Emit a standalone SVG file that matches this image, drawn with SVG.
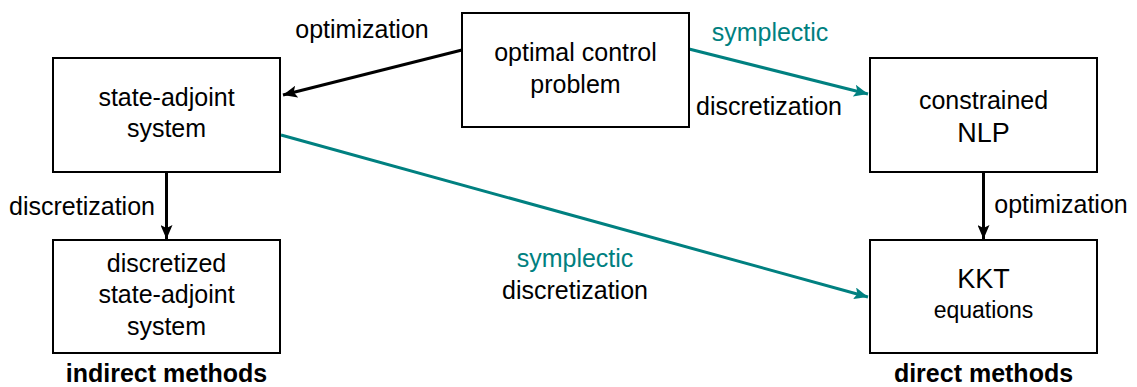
<svg xmlns="http://www.w3.org/2000/svg" width="1137" height="387" viewBox="0 0 1137 387">
<style>
text{font-family:"Liberation Sans",Arial,sans-serif;font-size:25px;fill:#000}
.c{text-anchor:middle}
.big{font-size:27px}
.sm{font-size:23px}
.teal{fill:#008080}
.bold{font-weight:bold}
.box{fill:#fff;stroke:#000;stroke-width:2}
.ab{stroke:#000;stroke-width:3;fill:none}
.at{stroke:#008080;stroke-width:3;fill:none}
</style>
<defs>
<marker id="hb" markerUnits="userSpaceOnUse" markerWidth="16" markerHeight="12" refX="14" refY="6" orient="auto">
<path d="M0,0 L14,6 L0,12 L3,6 Z" fill="#000"/>
</marker>
<marker id="ht" markerUnits="userSpaceOnUse" markerWidth="16" markerHeight="12" refX="14" refY="6" orient="auto">
<path d="M0,0 L14,6 L0,12 L3,6 Z" fill="#008080"/>
</marker>
</defs>
<g id="connectors">
<line class="ab" x1="462" y1="50" x2="283" y2="95" marker-end="url(#hb)"/>
<line class="at" x1="689" y1="49" x2="868" y2="94" marker-end="url(#ht)"/>
<line class="at" x1="281" y1="135" x2="868" y2="297" marker-end="url(#ht)"/>
<line class="ab" x1="166.5" y1="172" x2="166.5" y2="239" marker-end="url(#hb)"/>
<line class="ab" x1="983.5" y1="172" x2="983.5" y2="239" marker-end="url(#hb)"/>
<text class="c" x="362" y="38">optimization</text>
<text class="c teal" x="770" y="41">symplectic</text>
<text class="c" x="769" y="115">discretization</text>
<text class="c" x="82" y="215">discretization</text>
<text class="c" x="1061" y="213">optimization</text>
<text class="c teal" x="575" y="267">symplectic</text>
<text class="c" x="575" y="299">discretization</text>
</g>
<g id="ocp">
<rect class="box" x="462" y="13" width="227" height="114"/>
<text class="c" x="575.5" y="61">optimal control</text>
<text class="c" x="575.5" y="93">problem</text>
</g>
<g id="state-adjoint">
<rect class="box" x="53" y="58" width="227" height="114"/>
<text class="c" x="166.5" y="106">state-adjoint</text>
<text class="c" x="166.5" y="137">system</text>
</g>
<g id="discretized">
<rect class="box" x="53" y="240" width="227" height="113"/>
<text class="c" x="166.5" y="272">discretized</text>
<text class="c" x="166.5" y="303">state-adjoint</text>
<text class="c" x="166.5" y="335">system</text>
</g>
<g id="nlp">
<rect class="box" x="870" y="58" width="227" height="114"/>
<text class="c" x="983.5" y="109">constrained</text>
<text class="c big" x="983.5" y="142">NLP</text>
</g>
<g id="kkt">
<rect class="box" x="870" y="240" width="227" height="113"/>
<text class="c big" x="983.5" y="288">KKT</text>
<text class="c sm" x="983.5" y="318">equations</text>
</g>
<g id="labels">
<text class="c bold" x="166.5" y="382">indirect methods</text>
<text class="c bold" x="983.5" y="382">direct methods</text>
</g>
</svg>
